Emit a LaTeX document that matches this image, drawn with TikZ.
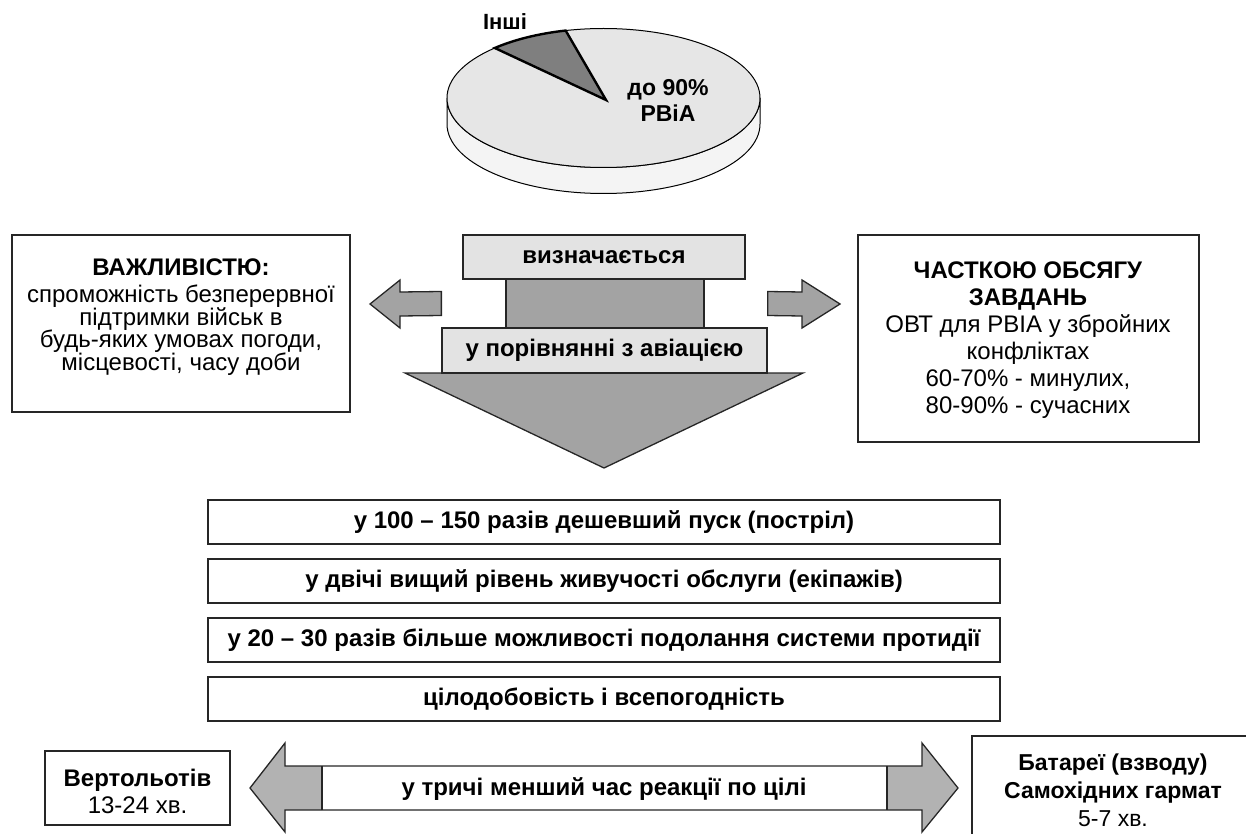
\documentclass[tikz,border=0pt]{standalone}
\usepackage{fontspec}
\setmainfont{Liberation Sans}
\usetikzlibrary{calc}
\setlength{\lineskiplimit}{-30pt}

\definecolor{pietop}{HTML}{E6E6E6}
\definecolor{pieside}{HTML}{F4F4F4}
\definecolor{piewedge}{HTML}{7F7F7F}
\definecolor{lightbox}{HTML}{E3E3E3}
\definecolor{midgray}{HTML}{A3A3A3}
\definecolor{arrowgray}{HTML}{B2B2B2}
\definecolor{edge}{HTML}{262626}

\tikzset{
  txt/.style={font=\fontsize{24}{22.5}\selectfont, align=center, inner sep=0pt},
  box/.style={draw=edge, line width=1.3pt, fill=white, inner sep=0pt},
  graybox/.style={box, fill=lightbox, font=\bfseries\fontsize{24}{26}\selectfont},
  rowbox/.style={box, line width=1.8pt, minimum width=792pt, minimum height=44pt,
    font=\bfseries\fontsize{24}{26}\selectfont},
  shapearrow/.style={draw=edge, line width=1.3pt, fill=midgray},
}

\begin{document}
\begin{tikzpicture}[x=1pt, y=-1pt]
    % кадр 1246 x 834
    \useasboundingbox (0,0) rectangle (1246,834);
    \clip (0,0) rectangle (1246,834);

    % кругова діаграма
    \draw[fill=pieside, line width=1pt] (447,98) -- (447,124)
        arc[start angle=180, end angle=360, x radius=156.5pt, y radius=69.5pt]
        -- (760,98)
        arc[start angle=0, end angle=-180, x radius=156.5pt, y radius=69.5pt];
    \draw[fill=pietop, line width=1pt] (603.5,98) ellipse [x radius=156.5pt, y radius=69.5pt];
    \draw[fill=piewedge, line width=2.4pt, line join=miter] (606,100) -- (494.8,48)
        arc[start angle=134, end angle=104, x radius=156.5pt, y radius=69.5pt] -- cycle;
    \node[txt, font=\bfseries\fontsize{22}{26}\selectfont] (lblother) at (505,22) {Інші};
    \node[txt, font=\bfseries\fontsize{23}{26}\selectfont] (lblshare) at (668,100) {до 90\%\\РВіА};

    % бічні блоки
    \node[box, minimum width=338pt, minimum height=177pt] (importance) at (181,323.5) {};
    \node[txt, anchor=north] (importancetxt) at (181,258.4)
        {\textbf{ВАЖЛИВІСТЮ:}\\[5pt] спроможність безперервної\\ підтримки військ в\\
         будь-яких умовах погоди,\\ місцевості, часу доби};
    \node[box, minimum width=341pt, minimum height=207pt] (volume) at (1028.5,338.5) {};
    \node[txt, anchor=north, font=\fontsize{24}{27}\selectfont] (volumetxt) at (1028,261.4)
        {\textbf{ЧАСТКОЮ ОБСЯГУ}\\ \textbf{ЗАВДАНЬ}\\ ОВТ для РВІА у збройних\\
         конфліктах\\ 60-70\% - минулих,\\ 80-90\% - сучасних};

    % центральна стрілка
    \draw[shapearrow] (405,373) -- (803,373) -- (604,468) -- cycle;
    \node[graybox, minimum width=282pt, minimum height=44pt] (defined) at (604,257) {визначається};
    \node[box, fill=midgray, minimum width=198pt, minimum height=49pt] (diff) at (605,303.5) {};
    \node[graybox, minimum width=325pt, minimum height=45pt] (compare) at (604.5,350.5) {у порівнянні з авіацією};

    % стрілки вліво / вправо
    \draw[shapearrow] ($(compare.west |- diff)+(0,-12)$) -- (400,292) -- (400,280) -- (370,304)
        -- (400,328) -- (400,316) -- ($(compare.west |- diff)+(0,12)$) -- cycle;
    \draw[shapearrow] ($(compare.east |- diff)+(0,-12)$) -- (802,292) -- (802,280) -- (840,304)
        -- (802,328) -- (802,316) -- ($(compare.east |- diff)+(0,12)$) -- cycle;

    % переваги
    \node[rowbox] (row1) at (604,522) {у 100 – 150 разів дешевший пуск (постріл)};
    \node[rowbox] (row2) at (604,581) {у двічі вищий рівень живучості обслуги (екіпажів)};
    \node[rowbox] (row3) at (604,640) {у 20 – 30 разів більше можливості подолання системи протидії};
    \node[rowbox] (row4) at (604,699) {цілодобовість і всепогодність};

    % подвійна стрілка
    \fill[white] (250,788) -- (285,743) -- (285,766) -- (922,766) -- (922,743) -- (958,788)
        -- (922,832) -- (922,810) -- (285,810) -- (285,832) -- cycle;
    \fill[arrowgray] (250,788) -- (285,743) -- (285,766) -- (322,766) -- (322,810)
        -- (285,810) -- (285,832) -- cycle;
    \fill[arrowgray] (958,788) -- (922,743) -- (922,766) -- (887,766) -- (887,810)
        -- (922,810) -- (922,832) -- cycle;
    \draw[draw=edge, line width=1.3pt] (250,788) -- (285,743) -- (285,766) -- (922,766) -- (922,743)
        -- (958,788) -- (922,832) -- (922,810) -- (285,810) -- (285,832) -- cycle;
    \draw[draw=edge, line width=1.3pt] (322,766) -- (322,810) (887,766) -- (887,810);
    \node[txt, font=\bfseries\fontsize{24}{26}\selectfont] (react) at (604,789) {у тричі менший час реакції по цілі};

    % час реакції
    \node[box, minimum width=185pt, minimum height=74pt] (heli) at (137.5,788) {};
    \node[txt, anchor=north, font=\fontsize{24}{27.5}\selectfont] (helitxt) at (137.5,768.4)
        {\textbf{Вертольотів}\\ 13-24 хв.};
    \draw[draw=edge, line width=1.3pt, fill=white] (972,736) rectangle (1260,850);
    \node[txt, anchor=north, font=\fontsize{23}{28}\selectfont] (battery) at (1113,753.4)
        {\textbf{Батареї (взводу)}\\ \textbf{Самохідних гармат}\\ 5-7 хв.};
\end{tikzpicture}
\end{document}
